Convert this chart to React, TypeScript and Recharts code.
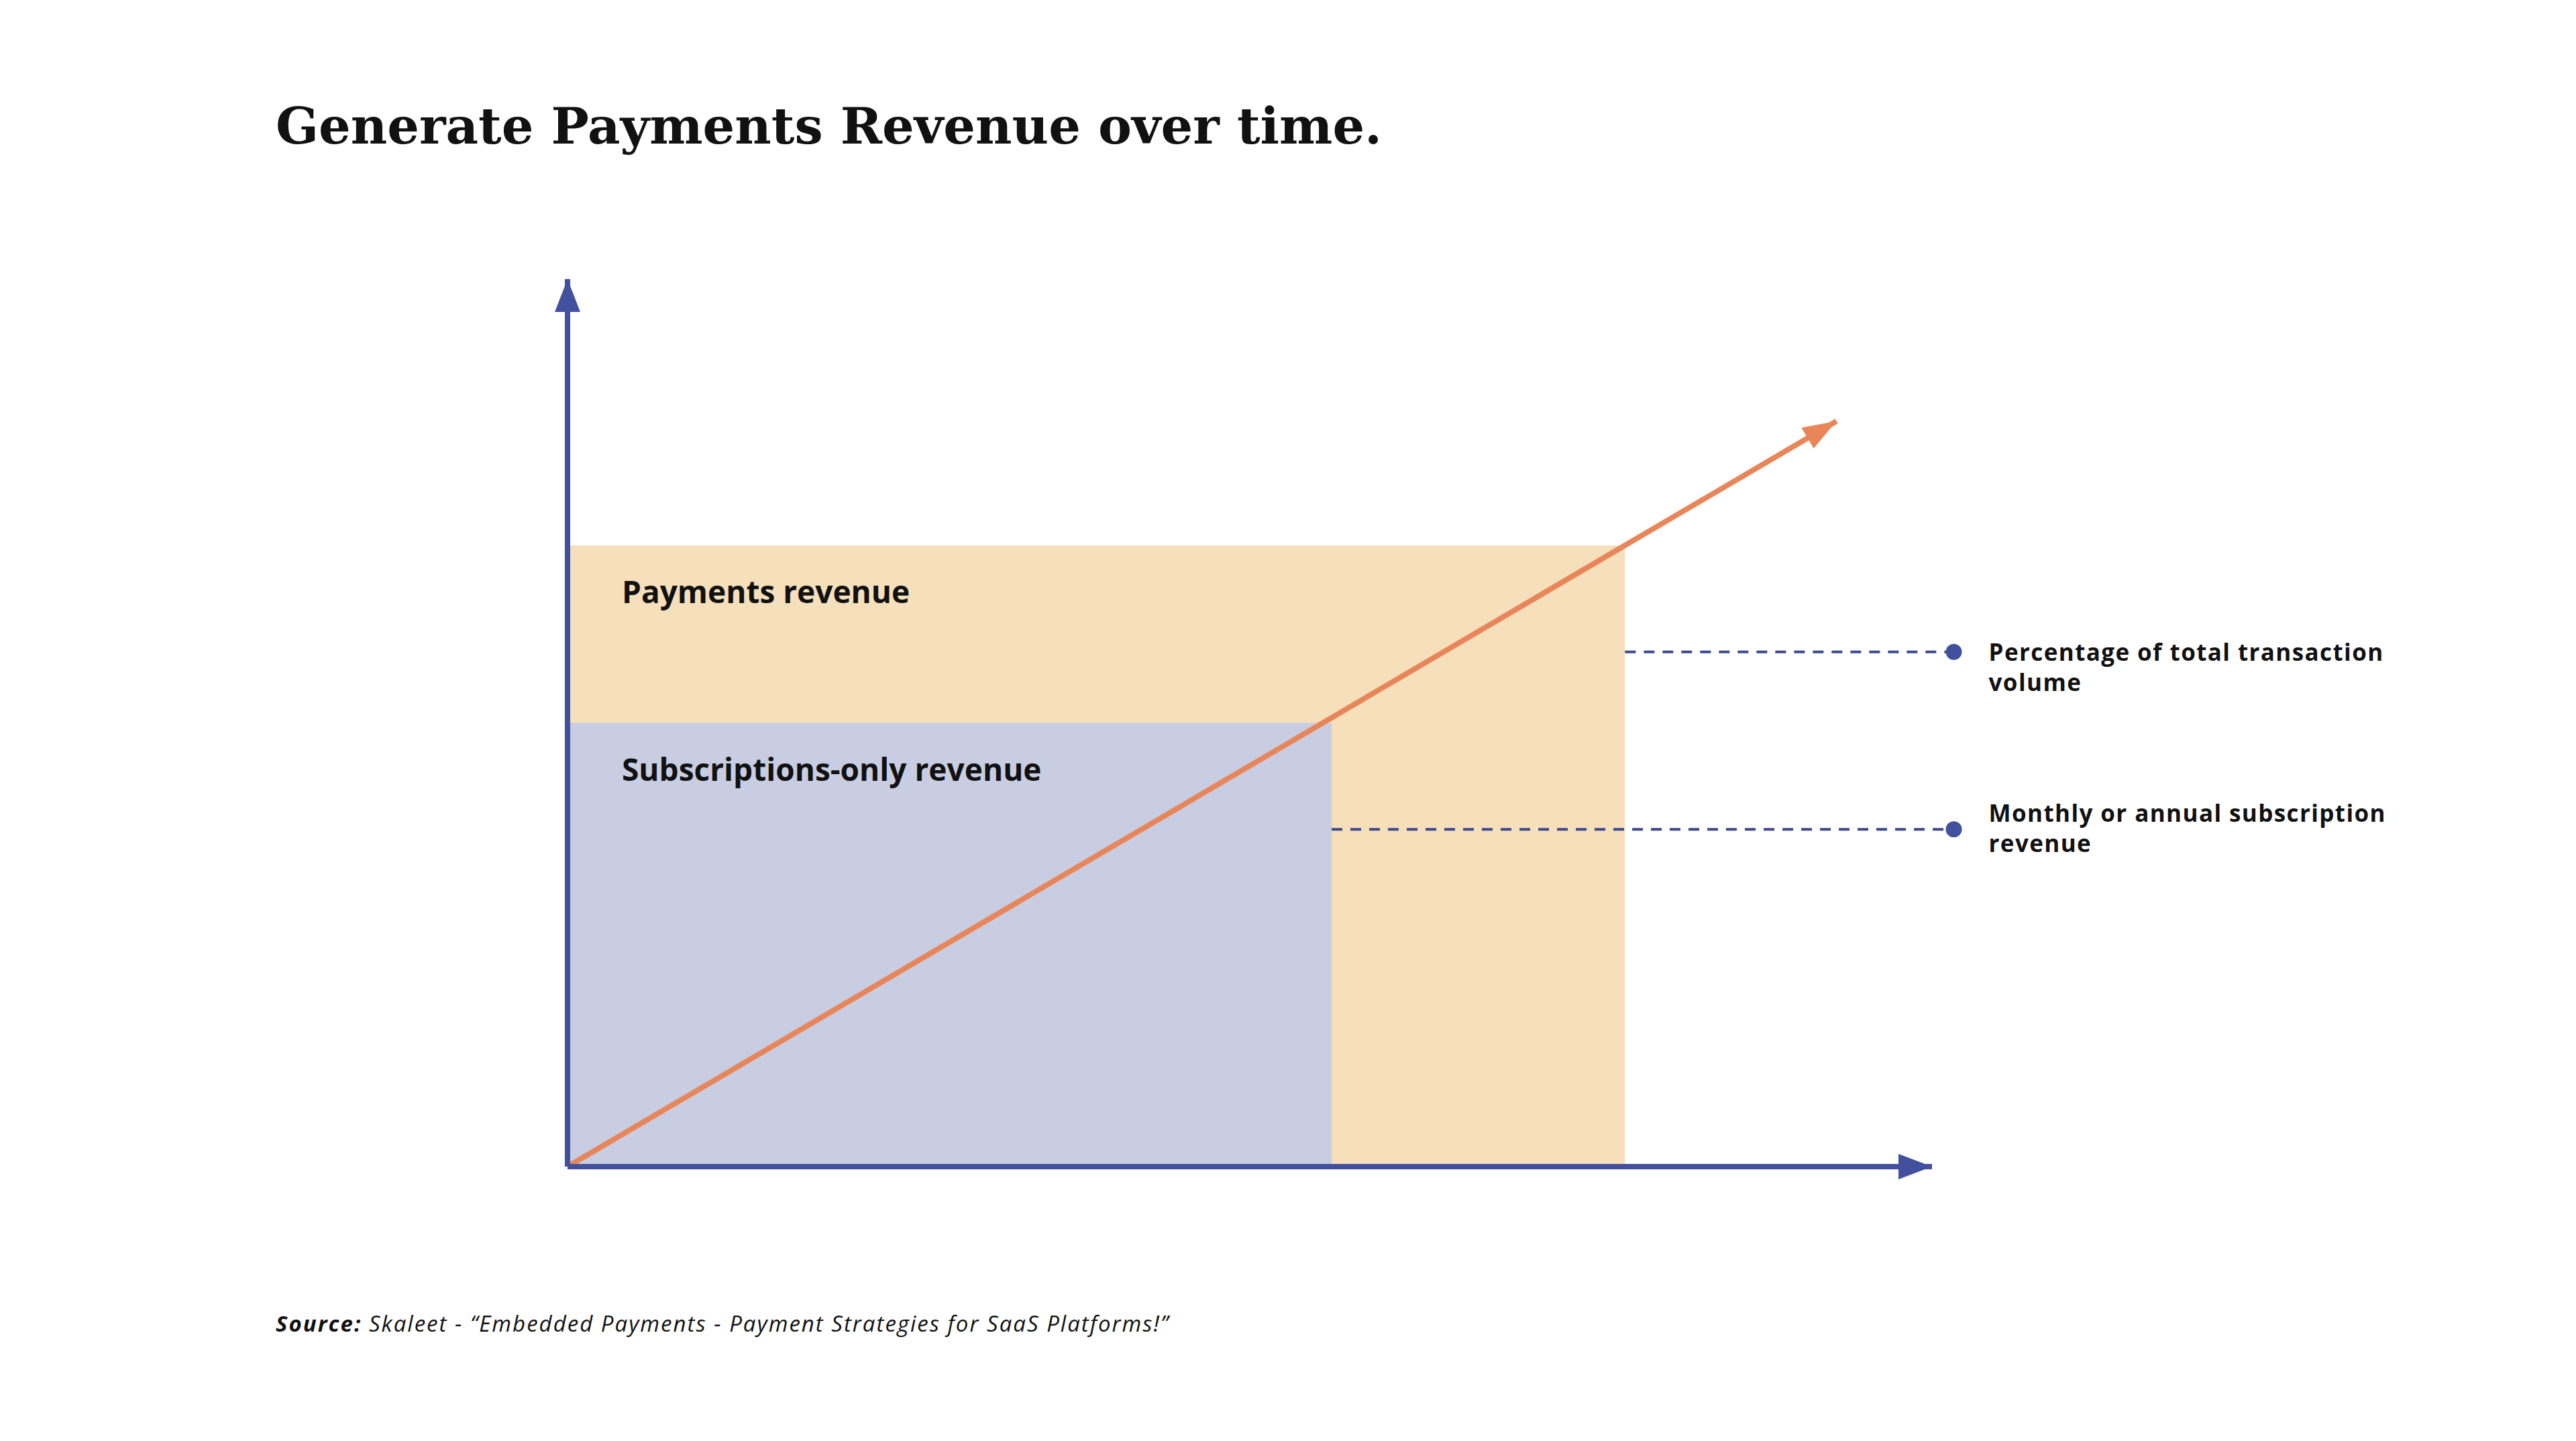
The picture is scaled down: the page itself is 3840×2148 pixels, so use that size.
import React from 'react';
import { ComposedChart, XAxis, YAxis, Line, ReferenceArea, ReferenceLine, ReferenceDot } from 'recharts';

// ---------- data ----------
const X_DOMAIN = [0, 100];
const Y_DOMAIN = [0, 100];
const growthX = [0, 93];
const growthY = [0, 84];
const areaNames = ['Payments revenue', 'Subscriptions-only revenue'];
const areaEndX = [77.5, 56];
const areaTopY = [70, 50];
const calloutStartX = [77.5, 56];
const calloutY = [58, 38];
const calloutDotX = 101.6;
const calloutLabels = [
  ['Percentage of total transaction', 'volume'],
  ['Monthly or annual subscription', 'revenue'],
];
const TITLE = 'Generate Payments Revenue over time.';
const SOURCE_BOLD = 'Source:';
const SOURCE_TEXT = ' Skaleet - “Embedded Payments - Payment Strategies for SaaS Platforms!”';

// ---------- layout / style ----------
const W = 3840;
const H = 2148;
const MARGIN = { top: 416, right: 960, bottom: 408, left: 845 };
const PLOT_W = W - MARGIN.left - 1 - MARGIN.right;
const PLOT_H = H - MARGIN.top - MARGIN.bottom - 1;
const AXIS = '#42509e';
const ORANGE = '#e8865a';
const AREA_FILLS = ['#f6dfbb', '#c8cde1'];
const DASH = '#3e4a8c';
const SANS = '"Open Sans", "Noto Sans", sans-serif';
const CALLOUT_DY = [13, -11];

const growthData = growthX.map((x, i) => ({ x, y: growthY[i] }));

const triangle = (cx: number, cy: number, angle: number, len: number, half: number, fill: string) => {
  const c = Math.cos(angle);
  const s = Math.sin(angle);
  const bx = cx - len * c;
  const by = cy - len * s;
  const p1 = [bx - half * s, by + half * c];
  const p2 = [bx + half * s, by - half * c];
  return <polygon points={`${cx},${cy} ${p1[0]},${p1[1]} ${p2[0]},${p2[1]}`} fill={fill} />;
};

const orangeAngle = (() => {
  const n = growthX.length;
  const dx = (growthX[n - 1] - growthX[n - 2]) * (PLOT_W / (X_DOMAIN[1] - X_DOMAIN[0]));
  const dy = (growthY[n - 1] - growthY[n - 2]) * (PLOT_H / (Y_DOMAIN[1] - Y_DOMAIN[0]));
  return Math.atan2(-dy, dx);
})();

export default function App() {
  return (
    <div style={{ position: 'absolute', left: 0, top: 0, width: W, height: H, background: '#fff' }}>
      <ComposedChart width={W} height={H} margin={MARGIN}>
        {areaNames.map((name, i) => (
          <ReferenceArea
            key={name}
            x1={X_DOMAIN[0]}
            x2={areaEndX[i]}
            y1={Y_DOMAIN[0]}
            y2={areaTopY[i]}
            fill={AREA_FILLS[i]}
            fillOpacity={1}
            stroke="none"
            ifOverflow="visible"
            label={(p: any) => (
              <text
                x={p.viewBox.x + 81}
                y={p.viewBox.y + 86}
                fontFamily={SANS}
                fontWeight={700}
                fontSize={46}
                fill="#111"
              >
                {name}
              </text>
            )}
          />
        ))}
        <XAxis
          type="number"
          dataKey="x"
          domain={X_DOMAIN}
          allowDataOverflow
          tick={false}
          tickLine={false}
          height={1}
          axisLine={{ stroke: AXIS, strokeWidth: 8 }}
        />
        <YAxis
          type="number"
          domain={Y_DOMAIN}
          allowDataOverflow
          tick={false}
          tickLine={false}
          width={1}
          axisLine={{ stroke: AXIS, strokeWidth: 8 }}
        />
        {calloutY.map((y, i) => (
          <ReferenceLine
            key={'cl' + i}
            segment={[
              { x: calloutStartX[i], y },
              { x: calloutDotX, y },
            ]}
            stroke={DASH}
            strokeWidth={4}
            strokeDasharray="16 12"
            ifOverflow="visible"
          />
        ))}
        {calloutY.map((y, i) => (
          <ReferenceDot
            key={'cd' + i}
            x={calloutDotX}
            y={y}
            r={12}
            fill={AXIS}
            stroke="none"
            ifOverflow="visible"
            label={(p: any) => {
              const vb = p.viewBox;
              const cx = vb.x + vb.width / 2;
              const cy = vb.y + vb.height / 2;
              return (
                <text fontFamily={SANS} fontWeight={700} fontSize={35} letterSpacing={1.4} fill="#111">
                  {calloutLabels[i].map((t, j) => (
                    <tspan key={j} x={cx + 52} y={cy + CALLOUT_DY[i] + j * 45}>
                      {t}
                    </tspan>
                  ))}
                </text>
              );
            }}
          />
        ))}
        <Line
          data={growthData}
          dataKey="y"
          type="linear"
          stroke={ORANGE}
          strokeWidth={8}
          dot={false}
          activeDot={false}
          isAnimationActive={false}
        />
        <ReferenceDot
          x={growthX[growthX.length - 1]}
          y={growthY[growthY.length - 1]}
          ifOverflow="visible"
          shape={(p: any) => triangle(p.cx, p.cy, orangeAngle, 50, 18, ORANGE)}
        />
        <ReferenceDot
          x={X_DOMAIN[1]}
          y={Y_DOMAIN[0]}
          ifOverflow="visible"
          shape={(p: any) => triangle(p.cx, p.cy, 0, 50, 19, AXIS)}
        />
        <ReferenceDot
          x={X_DOMAIN[0]}
          y={Y_DOMAIN[1]}
          ifOverflow="visible"
          shape={(p: any) => triangle(p.cx, p.cy, -Math.PI / 2, 49, 19, AXIS)}
        />
      </ComposedChart>
      <svg
        width={W}
        height={H}
        style={{ position: 'absolute', left: 0, top: 0, pointerEvents: 'none' }}
      >
        <text x={411} y={214} fontFamily='"DejaVu Serif", serif' fontWeight={700} fontSize={75} fill="#111">
          {TITLE}
        </text>
        <text x={411} y={1985} fontFamily={SANS} fontStyle="italic" fontSize={33} letterSpacing={2} fill="#111">
          <tspan fontWeight={700}>{SOURCE_BOLD}</tspan>
          <tspan>{SOURCE_TEXT}</tspan>
        </text>
      </svg>
    </div>
  );
}
